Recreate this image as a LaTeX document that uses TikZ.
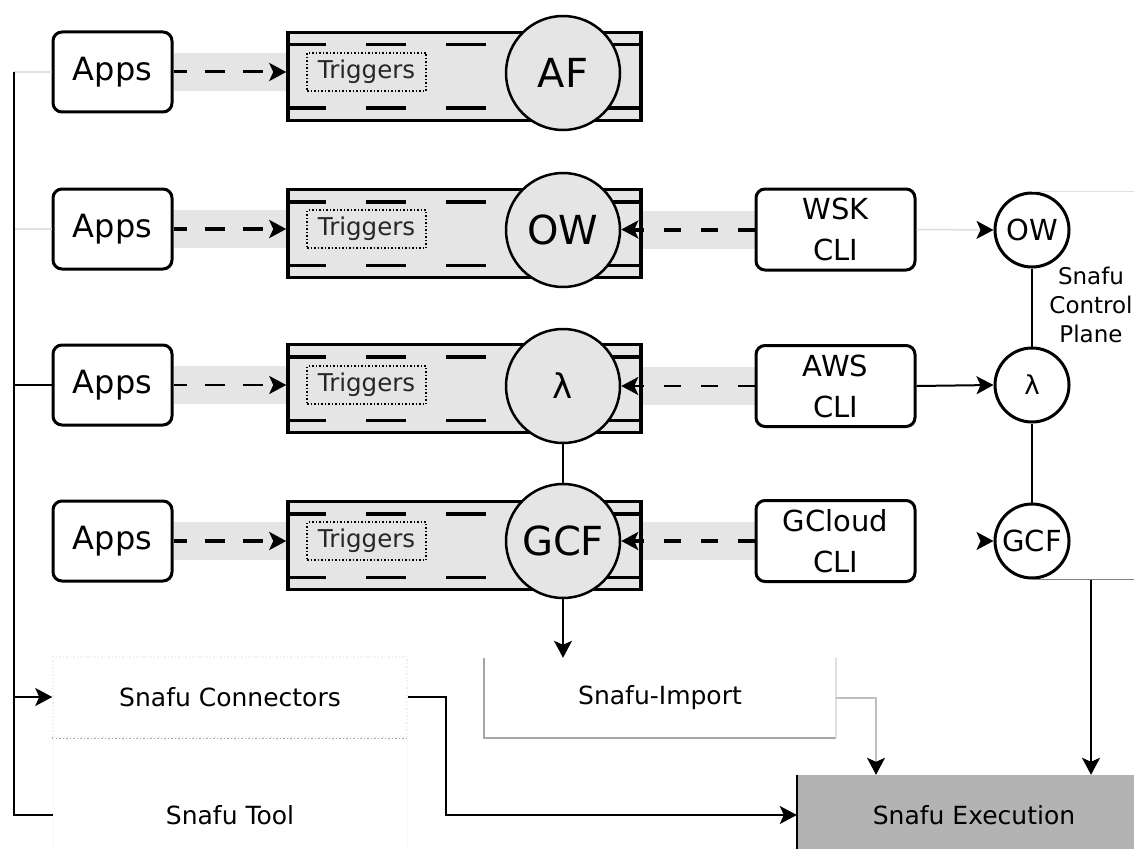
\documentclass[tikz,border=0pt]{standalone}
\usepackage{fontspec}
\setmainfont{DejaVu Sans}
\usetikzlibrary{arrows.meta,calc,backgrounds}
\definecolor{band}{HTML}{E5E5E5}
\definecolor{exe}{HTML}{B3B3B3}
\begin{document}
\begin{tikzpicture}[x=1pt,y=-1pt,
  tip/.style={-{Stealth[length=17pt,width=18pt,inset=4pt,color=black]}},
  appsbox/.style={draw,line width=3pt,rounded corners=9pt,minimum width=119pt,minimum height=80pt,fill=white,font=\fontsize{32}{38}\selectfont},
  clibox/.style={draw,line width=3pt,rounded corners=9pt,minimum width=159pt,minimum height=81pt,fill=white,align=center,inner sep=0pt,font=\fontsize{29}{41}\selectfont},
  pipe/.style={draw,line width=3.5pt,fill=band,minimum width=353pt,minimum height=88pt},
  pipeline/.style={line width=3.5pt,dash pattern=on 40pt off 40pt},
  trig/.style={draw,dotted,line width=1.5pt,minimum width=119pt,minimum height=38pt,inner sep=0pt,text=black!85,font=\fontsize{24.5}{27}\selectfont},
  fn/.style={circle,draw,line width=2.5pt,fill=band,minimum size=114pt,inner sep=0pt,font=\fontsize{40}{44}\selectfont},
  cp/.style={circle,draw,line width=3pt,fill=white,minimum size=74pt,inner sep=0pt,font=\fontsize{29}{32}\selectfont},
  appsarrow/.style={tip,dash pattern=on 20pt off 18pt,dash phase=7pt},
  cliarrow/.style={tip,dash pattern=on 17pt off 20pt},
  snafu/.style={font=\fontsize{25}{29}\selectfont,inner sep=0pt},
  light/.style={draw=gray!25,line width=1.5pt}
]
\clip (0,0) rectangle (1134,848);

% ---------- row 1 ----------
\node[appsbox] (a1) at (112.5,72) {Apps};
\node[pipe] (p1) at (464.5,76.5) {};
\draw[pipeline] ($(p1.north west)+(0,14)$) -- ($(p1.north east)+(0,14)$);
\draw[pipeline] ($(p1.south west)+(0,-14)$) -- ($(p1.south east)+(0,-14)$);
\node[trig] (t1) at (366.5,72) {Triggers};
\node[fn] (f1) at (563,73) {AF};
\draw[appsarrow,line width=3pt] (a1.east) -- (a1.east -| p1.west);

% ---------- row 2 ----------
\node[appsbox] (a2) at (112.5,229) {Apps};
\node[pipe] (p2) at (464.5,233.5) {};
\draw[pipeline] ($(p2.north west)+(0,14)$) -- ($(p2.north east)+(0,14)$);
\draw[pipeline] ($(p2.south west)+(0,-14)$) -- ($(p2.south east)+(0,-14)$);
\node[trig] (t2) at (366.5,229) {Triggers};
\node[fn] (f2) at (563,230) {OW};
\node[clibox] (wsk) at (835.5,229.5) {WSK\\CLI};
\node[cp] (ow) at (1032,230) {OW};
\draw[appsarrow,line width=4pt] (a2.east) -- (a2.east -| p2.west);
\draw[cliarrow,line width=4pt] (wsk.west) -- (wsk.west -| f2.east);
\draw[tip,draw=gray!25,line width=1.5pt] (wsk.east) -- (ow.west);

% ---------- row 3 ----------
\node[appsbox] (a3) at (112.5,385) {Apps};
\node[pipe] (p3) at (464.5,388.5) {};
\draw[pipeline] ($(p3.north west)+(0,14)$) -- ($(p3.north east)+(0,14)$);
\draw[pipeline] ($(p3.south west)+(0,-14)$) -- ($(p3.south east)+(0,-14)$);
\node[trig] (t3) at (366.5,385) {Triggers};
\node[fn,font=\fontsize{34}{38}\selectfont] (f3) at (563,386) {λ};
\node[clibox] (aws) at (835.5,386) {AWS\\CLI};
\node[cp,font=\fontsize{26}{30}\selectfont] (lam) at (1032,385) {λ};
\draw[appsarrow,line width=2.5pt] (a3.east) -- (a3.east -| p3.west);
\draw[cliarrow,line width=2.5pt] (aws.west) -- (aws.west -| f3.east);
\draw[tip,line width=2pt] (aws.east) -- (lam.west);

% ---------- row 4 ----------
\node[appsbox] (a4) at (112.5,541) {Apps};
\node[pipe] (p4) at (464.5,545.5) {};
\draw[pipeline] ($(p4.north west)+(0,14)$) -- ($(p4.north east)+(0,14)$);
\draw[pipeline] ($(p4.south west)+(0,-14)$) -- ($(p4.south east)+(0,-14)$);
\node[trig] (t4) at (366.5,541) {Triggers};
\node[fn] (f4) at (563,541) {GCF};
\node[clibox] (gc) at (835.5,541) {GCloud\\CLI};
\node[cp] (gcf) at (1032,541) {GCF};
\draw[appsarrow,line width=3.5pt] (a4.east) -- (a4.east -| p4.west);
\draw[cliarrow,line width=4pt] (gc.west) -- (gc.west -| f4.east);
\draw[tip,draw=white,line width=1.5pt] (gc.east) -- (gcf.west);

% ---------- bands (background) ----------
\begin{pgfonlayer}{background}
  \fill[white] (0,0) rectangle (1134,848);
  \foreach \a/\p in {a1/p1,a2/p2,a3/p3,a4/p4}{
    \fill[band] ($(\a.east)+(0,-19)$) rectangle ($(\a.east -| \p.west)+(0,19)$);
  }
  \foreach \c/\p in {wsk/p2,aws/p3,gc/p4}{
    \fill[band] ($(\c.west)+(0,-19)$) rectangle ($(\c.west -| \p.east)+(0,19)$);
  }
\end{pgfonlayer}

% ---------- function links ----------
\draw[line width=1.5pt] (f3.south) -- (f4.north);

% ---------- control plane ----------
\coordinate (E) at (1134,0);
\coordinate (J) at (1091,0);
\draw[line width=2pt] (ow.south) -- (lam.north);
\draw[line width=2pt] (lam.south) -- (gcf.north);
\draw[light] (ow.north) -- (ow.north -| E);
\node[font=\fontsize{23}{29}\selectfont,align=center,inner sep=0pt] (cpl) at (1091,305) {Snafu\\Control\\Plane};
\draw[draw=gray,line width=1.5pt] (gcf.south) -- (gcf.south -| E);

% ---------- bottom part ----------
\node[snafu,draw=gray!12,dotted,line width=1.5pt,minimum width=354pt,minimum height=80pt] (conn) at (230,697) {Snafu Connectors};
\draw[dotted,draw=gray!70,line width=1.5pt] (conn.south west) -- (conn.south east);
\node[snafu,draw=gray!6,minimum width=354pt,minimum height=156pt] (tool) at (230,815) {Snafu Tool};
\node[snafu,minimum width=352pt,minimum height=80pt] (imp) at (660,698) {Snafu-Import};
\draw[draw=gray!70,line width=1.5pt] (imp.north west) -- (imp.south west) -- (imp.south east);
\draw[draw=gray!25,line width=1.5pt] (imp.south east) -- (imp.north east);
\node[snafu,fill=exe,minimum width=354pt,minimum height=80pt] (exe) at (974,815) {Snafu Execution};
\draw[line width=2pt] (exe.north west) -- (exe.south west);
\coordinate (K) at (876,0);

% ---------- connectors ----------
\coordinate (L) at (14,72);
\draw[light] (a1.west) -- (a1.west -| L);
\draw[light] (a2.west) -- (a2.west -| L);
\draw[line width=2pt] (a3.west) -- (a3.west -| L);
\draw[line width=2.5pt] (a1.west -| L) -- (tool.west -| L) -- (tool.west);
\draw[tip,line width=2pt] (conn.west -| L) -- (conn.west);
\draw[tip,line width=2pt] (conn.east) -- ++(38,0) |- (exe.west);
\draw[tip,line width=1.5pt] (f4.south) -- (f4.south |- imp.north);
\draw[tip,draw=gray!50,line width=1.5pt] (imp.east) -| (K |- exe.north);
\draw[tip,line width=2pt] (gcf.south -| J) -- (J |- exe.north);
\end{tikzpicture}
\end{document}
